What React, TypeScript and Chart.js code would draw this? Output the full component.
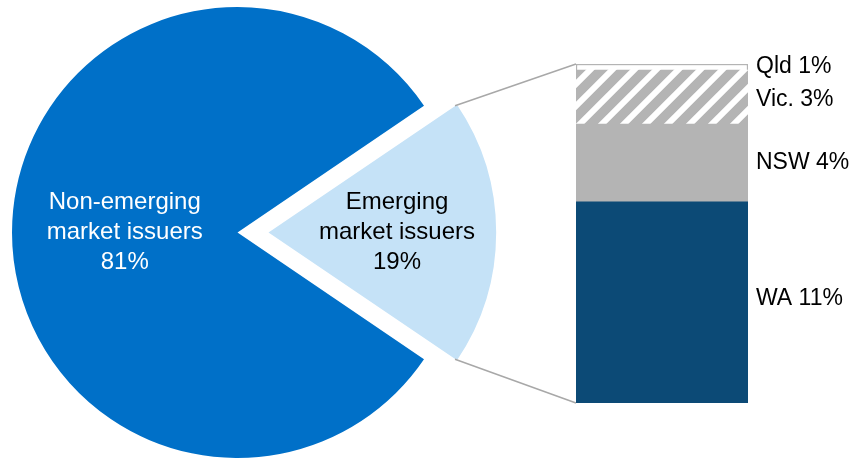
import React, { useEffect, useRef } from 'react';
import { Chart, registerables } from 'chart.js';

Chart.register(...registerables);

// ---- Data ----
const pieNames = ['Emerging market issuers', 'Non-emerging market issuers'];
const pieLabelLines = [
  ['Emerging', 'market issuers'],
  ['Non-emerging', 'market issuers'],
];
const pieValues = [19, 81];

const barCategories = ['WA', 'NSW', 'Vic.', 'Qld'];
const barValues = [11.27, 4.36, 3.03, 0.34];
const barPctLabels = ['11%', '4%', '3%', '1%'];

// ---- Style ----
const FONT = '"Liberation Sans", Arial, Helvetica, sans-serif';
const PIE_COLORS = ['#C5E2F7', '#0070C8'];
const PIE_TEXT_COLORS = ['#000000', '#FFFFFF'];
const PIE_LABEL_RADIUS = [0.57, 0.5];
const EXPLODE_PX = 31; // visual shift of the emerging slice
const NAVY = '#0C4A76';
const GREY = '#B4B4B4';
const LINE_GREY = '#A8A8A8';

// Chart.js 4 arcs translate by offset / 4
const arcShift = (arc: any) => (arc.options.offset || 0) / 4;

function makeHatch(): CanvasPattern | string {
  const s = 22;
  const c = document.createElement('canvas');
  c.width = s;
  c.height = s;
  const g = c.getContext('2d');
  if (!g) return GREY;
  g.fillStyle = GREY;
  g.fillRect(0, 0, s, s);
  g.strokeStyle = '#FFFFFF';
  g.lineWidth = 6;
  g.lineCap = 'square';
  g.beginPath();
  for (let k = -2; k <= 2; k++) {
    g.moveTo(k * s - s, 2 * s);
    g.lineTo(k * s + 2 * s, -s);
  }
  g.stroke();
  const p = g.createPattern(c, 'repeat');
  return p || GREY;
}

export default function App() {
  const pieRef = useRef<HTMLCanvasElement>(null);
  const barRef = useRef<HTMLCanvasElement>(null);

  useEffect(() => {
    if (!pieRef.current || !barRef.current) return;
    const pieTotal = pieValues.reduce((a, b) => a + b, 0);
    const barTotal = barValues.reduce((a, b) => a + b, 0);

    const piePlugin = {
      id: 'pieLabels',
      afterDatasetsDraw(chart: any) {
        const ctx = chart.ctx;
        const meta = chart.getDatasetMeta(0);
        ctx.save();
        ctx.font = `24px ${FONT}`;
        ctx.textAlign = 'center';
        ctx.textBaseline = 'middle';
        meta.data.forEach((arc: any, i: number) => {
          const { x, y, startAngle, endAngle, outerRadius } = arc.getProps(
            ['x', 'y', 'startAngle', 'endAngle', 'outerRadius'],
            true
          );
          const mid = (startAngle + endAngle) / 2;
          const r = arcShift(arc) + outerRadius * PIE_LABEL_RADIUS[i];
          const cx = x + Math.cos(mid) * r;
          const cy = y + Math.sin(mid) * r;
          const lines = [...pieLabelLines[i], `${Math.round((pieValues[i] / pieTotal) * 100)}%`];
          ctx.fillStyle = PIE_TEXT_COLORS[i];
          lines.forEach((t, k) => {
            ctx.fillText(t, cx, cy + (k - (lines.length - 1) / 2) * 30);
          });
        });
        ctx.restore();
      },
    };

    const pieChart = new Chart(pieRef.current, {
      type: 'pie',
      data: {
        labels: pieNames,
        datasets: [
          {
            data: pieValues,
            backgroundColor: PIE_COLORS,
            borderWidth: 0,
            offset: [EXPLODE_PX * 4, 0],
            clip: false,
          } as any,
        ],
      },
      options: {
        responsive: false,
        animation: false,
        events: [],
        rotation: 90 - (pieValues[0] / pieTotal) * 180,
        radius: 225.5,
        layout: { padding: { top: 5, right: 387, left: 0, bottom: 0 } },
        plugins: { legend: { display: false }, tooltip: { enabled: false } },
      } as any,
      plugins: [piePlugin],
    });

    const barPlugin = {
      id: 'barExtras',
      beforeDatasetsDraw(chart: any) {
        const ctx = chart.ctx;
        const arc: any = pieChart.getDatasetMeta(0).data[0];
        if (!arc) return;
        const { x, y, startAngle, endAngle, outerRadius } = arc.getProps(
          ['x', 'y', 'startAngle', 'endAngle', 'outerRadius'],
          true
        );
        const shift = arcShift(arc);
        const mid = (startAngle + endAngle) / 2;
        const ox = x + Math.cos(mid) * shift;
        const oy = y + Math.sin(mid) * shift;
        const p1 = [ox + Math.cos(startAngle) * outerRadius, oy + Math.sin(startAngle) * outerRadius];
        const p2 = [ox + Math.cos(endAngle) * outerRadius, oy + Math.sin(endAngle) * outerRadius];
        const n = chart.data.datasets.length;
        const topEl: any = chart.getDatasetMeta(n - 1).data[0];
        const botEl: any = chart.getDatasetMeta(0).data[0];
        ctx.save();
        ctx.strokeStyle = LINE_GREY;
        ctx.lineWidth = 1.5;
        ctx.beginPath();
        ctx.moveTo(p1[0], p1[1]);
        ctx.lineTo(topEl.x - topEl.width / 2, topEl.y);
        ctx.moveTo(p2[0], p2[1]);
        ctx.lineTo(botEl.x - botEl.width / 2, botEl.base);
        ctx.stroke();
        ctx.restore();
      },
      afterDatasetsDraw(chart: any) {
        const ctx = chart.ctx;
        ctx.save();
        ctx.font = `23px ${FONT}`;
        ctx.textAlign = 'left';
        ctx.textBaseline = 'middle';
        ctx.fillStyle = '#000000';
        chart.data.datasets.forEach((ds: any, i: number) => {
          const el: any = chart.getDatasetMeta(i).data[0];
          const tx = el.x + el.width / 2 + 8;
          let ty = (el.y + el.base) / 2;
          if (i === 2) ty += 3;
          if (i === 0) ty -= 4;
          ctx.fillText(`${barCategories[i]} ${barPctLabels[i]}`, tx, ty);
        });
        ctx.restore();
      },
    };

    const barColors: any[] = [NAVY, GREY, makeHatch(), '#FFFFFF'];
    const barBorders = [NAVY, GREY, GREY, GREY];
    const barBorderWidths = [0, 0, 0, 1.5];

    const barChart = new Chart(barRef.current, {
      type: 'bar',
      data: {
        labels: ['Emerging market issuers'],
        datasets: barCategories.map((c, i) => ({
          label: c,
          data: [barValues[i]],
          backgroundColor: barColors[i],
          borderColor: barBorders[i],
          borderWidth: barBorderWidths[i],
          categoryPercentage: 1,
          barPercentage: 1,
        })),
      },
      options: {
        responsive: false,
        animation: false,
        events: [],
        layout: { padding: { left: 576, right: 114, top: 64, bottom: 57 } },
        scales: {
          x: { stacked: true, display: false },
          y: { stacked: true, display: false, min: 0, max: barTotal },
        },
        plugins: { legend: { display: false }, tooltip: { enabled: false } },
      } as any,
      plugins: [barPlugin],
    });

    return () => {
      barChart.destroy();
      pieChart.destroy();
    };
  }, []);

  return (
    <div style={{ position: 'absolute', left: 0, top: 0, width: 862, height: 460, background: '#FFFFFF' }}>
      <canvas ref={pieRef} width={862} height={460} style={{ position: 'absolute', left: 0, top: 0 }} />
      <canvas ref={barRef} width={862} height={460} style={{ position: 'absolute', left: 0, top: 0 }} />
    </div>
  );
}
